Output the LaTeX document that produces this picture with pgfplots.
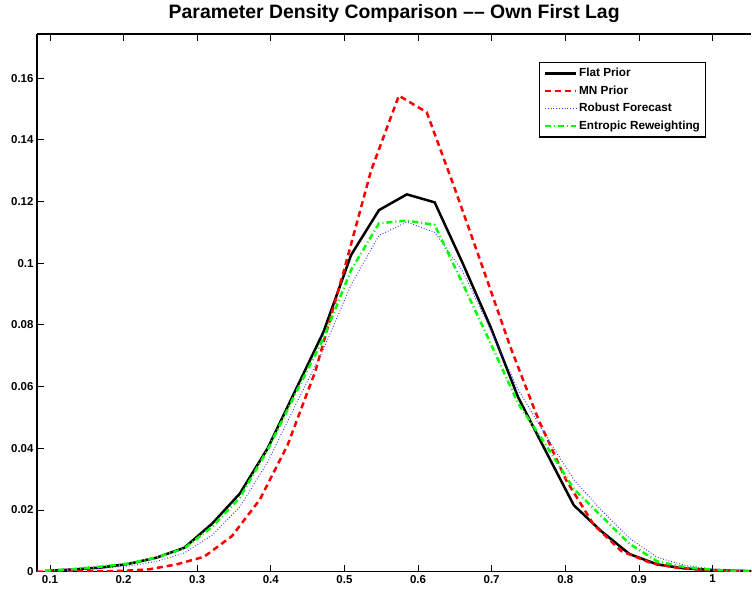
\documentclass[border=0pt]{standalone}
\usepackage{fontspec}
\setmainfont{Liberation Sans}
\usepackage{pgfplots}
\pgfplotsset{compat=1.18}

% x = parameter value, y = density
\pgfplotstableread{
x y
0.0934 0.0002
0.1312 0.0007
0.1690 0.0013
0.2068 0.0025
0.2446 0.0045
0.2824 0.0077
0.3202 0.0155
0.3580 0.0253
0.3958 0.0400
0.4336 0.0588
0.4714 0.0776
0.5092 0.1027
0.5470 0.1172
0.5848 0.1223
0.6226 0.1197
0.6604 0.1001
0.6982 0.0795
0.7360 0.0565
0.7738 0.0389
0.8116 0.0215
0.8494 0.0130
0.8872 0.0057
0.9250 0.0023
0.9628 0.0010
1.0006 0.0005
1.0384 0.0002
1.0762 0.0001
}\flatprior

\pgfplotstableread{
x y
0.0826 0.0000
0.1204 0.0000
0.1582 0.0001
0.1960 0.0002
0.2338 0.0007
0.2716 0.0023
0.3094 0.0048
0.3472 0.0115
0.3850 0.0233
0.4228 0.0410
0.4606 0.0650
0.4984 0.0968
0.5362 0.1300
0.5740 0.1543
0.6118 0.1489
0.6496 0.1244
0.6874 0.0989
0.7252 0.0730
0.7630 0.0496
0.8008 0.0298
0.8386 0.0152
0.8764 0.0066
0.9142 0.0030
0.9520 0.0012
0.9898 0.0005
1.0276 0.0002
1.0654 0.0001
}\mnprior

\pgfplotstableread{
x y
0.0934 0.0002
0.1312 0.0005
0.1690 0.0010
0.2068 0.0018
0.2446 0.0033
0.2824 0.0060
0.3202 0.0118
0.3580 0.0210
0.3958 0.0355
0.4336 0.0540
0.4714 0.0720
0.5092 0.0930
0.5470 0.1090
0.5848 0.1133
0.6226 0.1100
0.6604 0.0975
0.6982 0.0785
0.7360 0.0590
0.7738 0.0440
0.8116 0.0298
0.8494 0.0198
0.8872 0.0108
0.9250 0.0046
0.9628 0.0020
1.0006 0.0008
1.0384 0.0003
1.0762 0.0001
}\robust

\pgfplotstableread{
x y
0.0934 0.0003
0.1312 0.0008
0.1690 0.0016
0.2068 0.0026
0.2446 0.0045
0.2824 0.0075
0.3202 0.0145
0.3580 0.0240
0.3958 0.0395
0.4336 0.0577
0.4714 0.0756
0.5092 0.0978
0.5470 0.1129
0.5848 0.1138
0.6226 0.1124
0.6604 0.0935
0.6982 0.0742
0.7360 0.0545
0.7738 0.0410
0.8116 0.0268
0.8494 0.0179
0.8872 0.0090
0.9250 0.0033
0.9628 0.0014
1.0006 0.0006
1.0384 0.0002
1.0762 0.0001
}\entropic

\begin{document}
\begin{tikzpicture}
  \begin{axis}[
    scale only axis,
    width=715bp, height=538bp,
    xmin=0.0824, xmax=1.0529,
    ymin=0, ymax=0.1743,
    axis x line=box,
    axis y line=left,
    axis line style={-, line width=1.1bp},
    tick align=inside,
    major tick length=7bp,
    tick style={line width=0.7bp, black},
    xtick={0.1,0.2,0.3,0.4,0.5,0.6,0.7,0.8,0.9,1},
    xticklabels={0.1,0.2,0.3,0.4,0.5,0.6,0.7,0.8,0.9,1},
    ytick={0,0.02,0.04,0.06,0.08,0.1,0.12,0.14,0.16},
    yticklabels={0,0.02,0.04,0.06,0.08,0.1,0.12,0.14,0.16},
    tick label style={font=\fontsize{11.5}{13}\selectfont\bfseries},
    title={Parameter Density Comparison \textendash\textendash{} Own First Lag},
    title style={font=\fontsize{19.5}{22}\selectfont\bfseries,
      at={(0.5,1)}, anchor=base, yshift=10bp},
    legend style={at={(0.937,0.948)}, anchor=north east,
      draw=black, line width=1.1bp, fill=white,
      font=\fontsize{11.8}{13}\selectfont\bfseries,
      nodes={inner sep=2bp}, row sep=3.5bp,
      inner xsep=4bp, inner ysep=4bp},
    legend cell align=left,
    legend image code/.code={\draw[#1] (0bp,0bp) -- (31bp,0bp);},
  ]
    \addplot[black, line width=2.5bp] table {\flatprior};
    \addlegendentry{Flat Prior}
    \addplot[red, line width=2.5bp, dash pattern=on 6bp off 4bp] table {\mnprior};
    \addlegendentry{MN Prior}
    \addplot[blue!80, line width=1bp, dash pattern=on 0.8bp off 2bp] table {\robust};
    \addlegendentry{Robust Forecast}
    \addplot[green, line width=2.5bp, dash pattern=on 6bp off 3bp on 1bp off 3bp] table {\entropic};
    \addlegendentry{Entropic Reweighting}
  \end{axis}
  \path ([shift={(-37bp,-17bp)}]current axis.south west) rectangle ([shift={(0bp,34bp)}]current axis.north east);
\end{tikzpicture}
\end{document}
